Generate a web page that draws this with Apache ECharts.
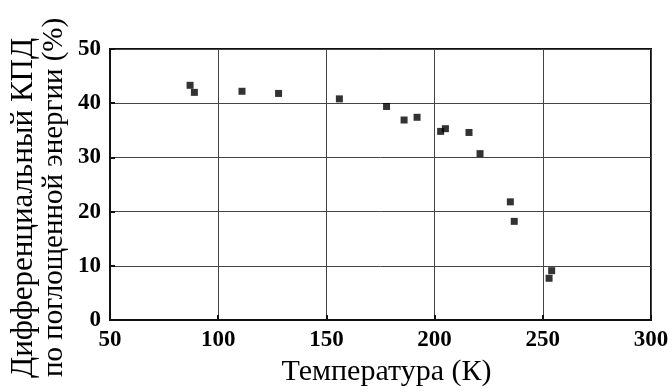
<!DOCTYPE html>
<html>
<head>
<meta charset="utf-8">
<script src="https://cdn.jsdelivr.net/npm/echarts@6/dist/echarts.min.js"></script>
<style>
html,body{margin:0;padding:0;background:#fff;}
#c{width:672px;height:392px;}
</style>
</head>
<body>
<div id="c"></div>
<script>
const temperature = [87.0, 89.0, 111.0, 127.9, 156.0, 177.8, 185.9, 191.9, 202.8, 205.0, 215.9, 221.0, 235.0, 236.8, 254.1, 252.9];
const efficiency = [43.3, 42.0, 42.2, 41.8, 40.8, 39.4, 36.9, 37.4, 34.8, 35.3, 34.6, 30.7, 21.8, 18.2, 9.1, 7.7];
const xAxisRange = [50, 300, 50];
const yAxisRange = [0, 50, 10];
const xTitle = 'Температура (К)';
const yTitleLine1 = 'Дифференциальный КПД';
const yTitleLine2 = 'по поглощенной энергии (%)';

const points = temperature.map((t, i) => [t, efficiency[i]]);
const serif = '"Liberation Serif", "DejaVu Serif", serif';

const chart = echarts.init(document.getElementById('c'), null, {renderer: 'canvas'});
chart.setOption({
  animation: false,
  backgroundColor: '#fff',
  grid: {left: 110, right: 21, top: 49, bottom: 69, show: true, borderColor: '#111', borderWidth: 2, backgroundColor: 'transparent'},
  xAxis: {
    type: 'value', min: xAxisRange[0], max: xAxisRange[1], interval: xAxisRange[2],
    name: xTitle, nameLocation: 'middle', nameGap: 37,
    nameTextStyle: {fontFamily: serif, fontSize: 30, color: '#000', padding: [0, 0, 0, 12]},
    axisLine: {show: true, lineStyle: {color: '#111', width: 2}},
    axisTick: {show: true, inside: true, length: 5, lineStyle: {color: '#111', width: 2}},
    axisLabel: {fontFamily: serif, fontWeight: 'bold', fontSize: 23, color: '#000', margin: 9},
    splitLine: {show: true, lineStyle: {color: '#444', width: 1}}
  },
  yAxis: {
    type: 'value', min: yAxisRange[0], max: yAxisRange[1], interval: yAxisRange[2],
    axisLine: {show: true, lineStyle: {color: '#111', width: 2}},
    axisTick: {show: true, inside: true, length: 5, lineStyle: {color: '#111', width: 2}},
    axisLabel: {fontFamily: serif, fontWeight: 'bold', fontSize: 23, color: '#000', margin: 9},
    splitLine: {show: true, lineStyle: {color: '#444', width: 1}}
  },
  graphic: [
    {type: 'text', x: 24, y: 378, rotation: Math.PI / 2,
     style: {text: yTitleLine1, font: '31px ' + serif, fill: '#000', textAlign: 'left', textVerticalAlign: 'middle'}},
    {type: 'text', x: 54, y: 377, rotation: Math.PI / 2,
     style: {text: yTitleLine2, font: '29px ' + serif, fill: '#000', textAlign: 'left', textVerticalAlign: 'middle'}}
  ],
  series: [{
    type: 'scatter', data: points, symbol: 'rect', symbolSize: 7,
    itemStyle: {color: '#000'}
  }]
});
</script>
</body>
</html>
